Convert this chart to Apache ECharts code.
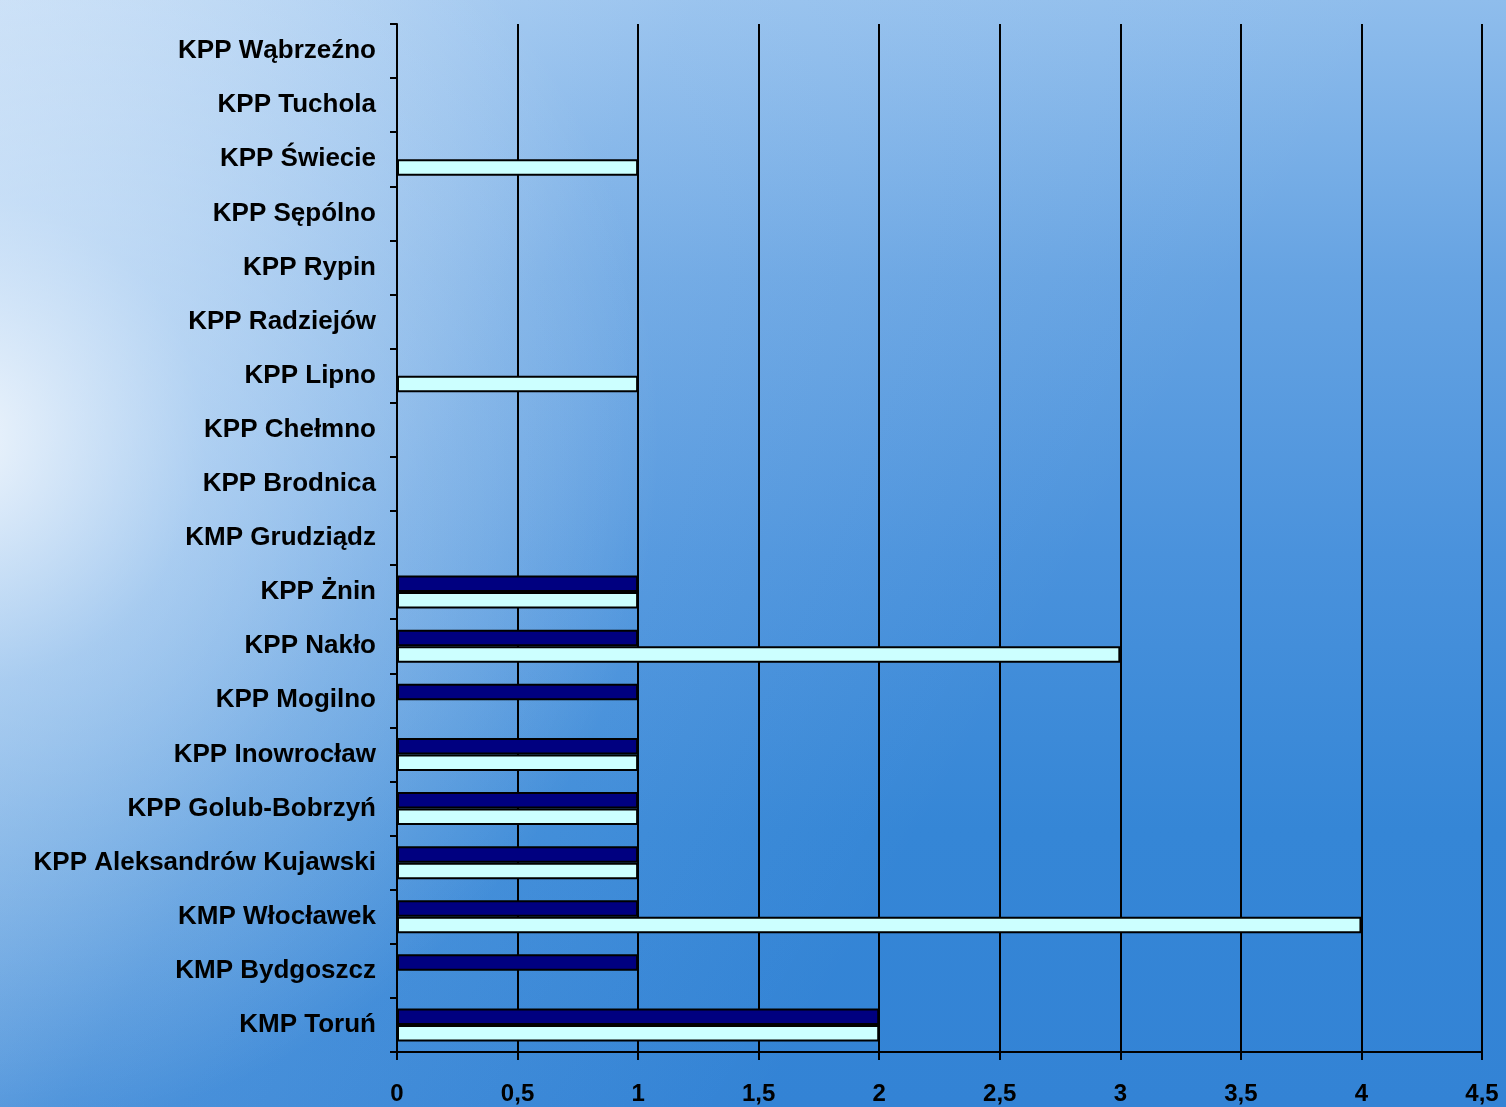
<!DOCTYPE html>
<html>
<head>
<meta charset="utf-8">
<script src="https://cdn.jsdelivr.net/npm/echarts@6/dist/echarts.min.js"></script>
<style>html,body{margin:0;padding:0;}#c{width:1506px;height:1107px;}</style>
</head>
<body>
<div id="c"></div>
<script>
const categories = ["KMP Toruń","KMP Bydgoszcz","KMP Włocławek","KPP Aleksandrów Kujawski","KPP Golub-Bobrzyń","KPP Inowrocław","KPP Mogilno","KPP Nakło","KPP Żnin","KMP Grudziądz","KPP Brodnica","KPP Chełmno","KPP Lipno","KPP Radziejów","KPP Rypin","KPP Sępólno","KPP Świecie","KPP Tuchola","KPP Wąbrzeźno"];
const seriesDark = [2,1,1,1,1,1,1,1,1,0,0,0,0,0,0,0,0,0,0];
const seriesLight = [2,0,4,1,1,1,0,3,1,0,0,0,1,0,0,0,1,0,0];
const xTicks = [0,0.5,1,1.5,2,2.5,3,3.5,4,4.5];

const chart = echarts.init(document.getElementById('c'));
const font = '"Liberation Sans", Arial, sans-serif';
chart.setOption({
  animation: false,
  backgroundColor: {type:'linear',x:0,y:0,x2:0,y2:1,colorStops:[
    {offset:0,color:'#8fbdec'},{offset:0.25,color:'#66a3e2'},{offset:0.5,color:'#4a92dc'},{offset:0.75,color:'#3586d6'},{offset:1,color:'#3383d5'}]},
  graphic: [
    {type:'rect', z:-10, silent:true, shape:{x:0,y:0,width:1506,height:1107},
     style:{fill:{type:'linear',x:0,y:0,x2:0.7,y2:0.55,colorStops:[{offset:0,color:'rgba(230,240,252,0.55)'},{offset:0.5,color:'rgba(220,235,252,0.15)'},{offset:1,color:'rgba(220,235,252,0)'}]}}},
    {type:'circle', z:-10, silent:true, shape:{cx:-40,cy:440,r:700},
     style:{fill:{type:'radial',x:0.5,y:0.5,r:0.5,colorStops:[{offset:0,color:'rgba(255,255,255,0.85)'},{offset:0.35,color:'rgba(235,245,255,0.45)'},{offset:1,color:'rgba(255,255,255,0)'}]}}}
  ],
  grid: {left:397, right:24, top:24, bottom:55, containLabel:false},
  xAxis: {
    type:'value', min:0, max:4.5, interval:0.5,
    axisLine:{show:true, lineStyle:{color:'#000', width:2}},
    axisTick:{show:true, length:8, lineStyle:{color:'#000', width:2}},
    splitLine:{show:true, lineStyle:{color:'#000', width:2}},
    axisLabel:{color:'#000', fontFamily:font, fontWeight:'bold', fontSize:24, margin:30,
      formatter: v => String(v).replace('.', ',')}
  },
  yAxis: {
    type:'category', data:categories,
    axisLine:{show:true, lineStyle:{color:'#000', width:2}},
    axisTick:{show:true, length:7, inside:false, lineStyle:{color:'#000', width:2}},
    splitLine:{show:false},
    axisLabel:{color:'#000', fontFamily:font, fontWeight:'bold', fontSize:26, margin:21}
  },
  series: [
    {type:'bar', name:'B', data:seriesDark, barGap:'0%', barCategoryGap:'39%',
     itemStyle:{color:'#000080', borderColor:'#000', borderWidth:2}},
    {type:'bar', name:'A', data:seriesLight, barGap:'0%', barCategoryGap:'39%',
     itemStyle:{color:'#ccffff', borderColor:'#000', borderWidth:2}}
  ]
});
</script>
</body>
</html>
